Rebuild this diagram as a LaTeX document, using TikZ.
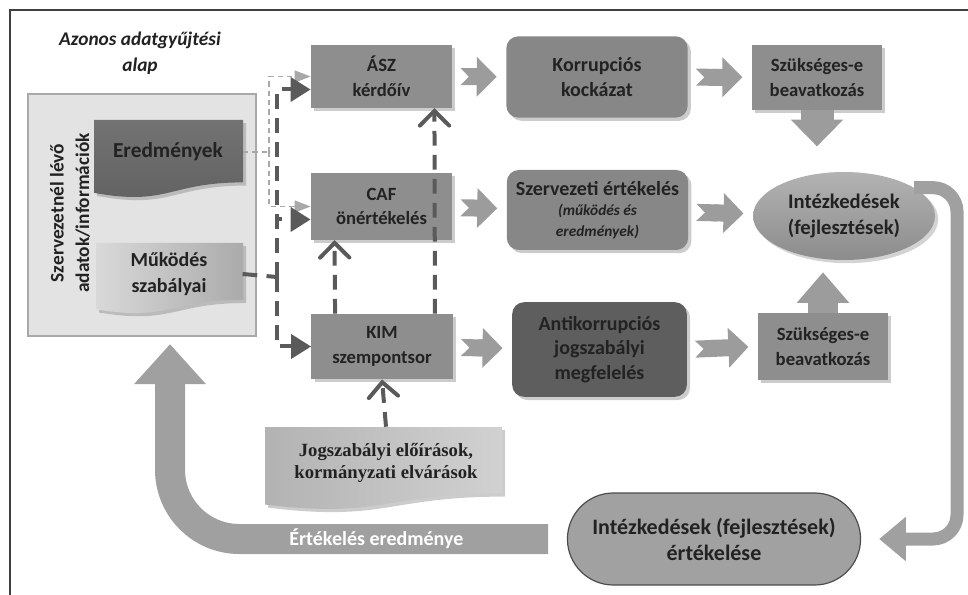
\documentclass[tikz,border=0pt]{standalone}
\usepackage{fontspec}
\setmainfont{Carlito}
\newfontfamily\serifbold{Liberation Serif}
\usetikzlibrary{arrows.meta,shapes.geometric,shapes.misc,shadows,calc,positioning}

\definecolor{boxgray}{HTML}{8E8E8E}
\definecolor{roundgray}{HTML}{878787}
\definecolor{darkbox}{HTML}{5E5E5E}
\definecolor{arrowgray}{HTML}{9C9C9C}
\definecolor{bandgray}{HTML}{A0A0A0}
\definecolor{linkgray}{HTML}{5A5A5A}
\definecolor{lightlink}{HTML}{A8A8A8}
\definecolor{txtgray}{HTML}{222222}
\definecolor{panelgray}{HTML}{E3E3E3}
\definecolor{panelline}{HTML}{A9A9A9}

% document shape: x1, top, x2, full bottom
\newcommand{\docshape}[5][]{%
  \path[#1] (#2,#3) -- (#4,#3) -- (#4,{#3+0.8*(#5-#3)})
    .. controls ({(#2+#4)/2},{#3+0.8*(#5-#3)}) and ({(#2+#4)/2},{#3+1.107*(#5-#3)}) .. (#2,{#3+0.934*(#5-#3)}) -- cycle;}

\begin{document}
\begin{tikzpicture}[x=0.75pt,y=0.75pt,yscale=-1,xscale=1,
  every node/.style={text=txtgray},
  boxfont/.style={font=\bfseries\fontsize{14}{18.5}\selectfont},
  sqbox/.style={boxfont, fill=boxgray, minimum width=106pt, align=center, drop shadow={opacity=.4}},
  rndbox/.style={sqbox, rounded corners=9pt, fill=roundgray, minimum width=136pt, font=\bfseries\fontsize{15}{18.5}\selectfont},
  blockarr/.style={draw=arrowgray, line width=12.75pt, {Triangle Cap[reversed]}-{Triangle[width=29pt,length=15pt]}, shorten <=6pt, shorten >=7pt},
  thicklink/.style={draw=linkgray, line width=3pt, dash pattern=on 11pt off 7pt},
  thinlink/.style={draw=lightlink, line width=1.1pt, dash pattern=on 4pt off 3pt},
  darktip/.style={-{Triangle[length=15pt,width=18pt,fill=linkgray]}},
  lighttip/.style={-{Triangle[length=12pt,width=9pt,fill=lightlink]}},
  barbtip/.style={-{Straight Barb[length=11pt,width=22pt,line cap=round]}}
]
\useasboundingbox (0,0) rectangle (968,595);

% frame
\draw[line width=0.9pt, color=black!75] (10,595) -- (10,10) -- (968,10);

% Text Node
\node (cim) [font=\bfseries\itshape\fontsize{14.5}{19.5}\selectfont, align=center] at (140,53) {Azonos adatgyűjtési\\alap};

%Shape: panel
\node (alap) [draw=panelline, line width=2.2pt, fill=panelgray, minimum width=171pt, minimum height=181.5pt] at (142,215) {};
\node (adat) [rotate=90, align=center, font=\bfseries\fontsize{14.5}{19}\selectfont] at (70,213) {Szervezetnél lévő\\adatok/információk};

%Shape: documents
\docshape[top color=black!55, bottom color=black!62, drop shadow={opacity=.4}]{94}{120}{243}{198}
\node (ered) [font=\bfseries\fontsize{16}{19}\selectfont, minimum width=112pt] at (168,152) {Eredmények};
\docshape[left color=black!15, right color=black!33, drop shadow={opacity=.4}]{96}{243}{243}{314}
\node (mukod) [font=\bfseries\fontsize{15}{19.5}\selectfont, minimum width=110pt, align=center] at (169,274) {Működés\\szabályai};
\docshape[left color=black!30, right color=black!18, drop shadow={opacity=.4}]{265}{427}{502}{510}
\node (jog) [font=\serifbold\bfseries\fontsize{14}{16}\selectfont, align=center, minimum width=178pt, minimum height=54pt] at (386,463) {Jogszabályi előírások,\\kormányzati elvárások};

%Shape: boxes
\node (asz) [sqbox, minimum height=47pt] at (381.5,76.5) {ÁSZ\\kérdőív};
\node (caf) [sqbox, minimum height=50pt] at (381.5,206.5) {CAF\\önértékelés};
\node (kim) [sqbox, minimum height=49pt] at (382,346.5) {KIM\\szempontsor};

\node (korr) [rndbox, minimum height=61pt] at (597,77) {Korrupciós\\kockázat};
\node (szerv) [rndbox, minimum height=60pt] at (597.5,210) {Szervezeti értékelés\\[-3pt]{\itshape\fontsize{11.5}{15}\selectfont (működés és}\\[-3pt]{\itshape\fontsize{11.5}{15}\selectfont eredmények)}};
\node (anti) [rndbox, fill=darkbox, minimum width=131pt, minimum height=71pt] at (599.5,349.5) {Antikorrupciós\\jogszabályi\\megfelelés};

\node (szuk1) [sqbox, minimum width=97.5pt, minimum height=49pt] at (817,77.5) {Szükséges-e\\beavatkozás};
\node (szuk2) [sqbox, minimum width=97.5pt, minimum height=50pt] at (823,346.5) {Szükséges-e\\beavatkozás};

\node (intez) [ellipse, top color=black!30, bottom color=black!45, minimum width=136.5pt, minimum height=66pt, inner sep=0pt, align=center, font=\bfseries\fontsize{15.5}{19.5}\selectfont, drop shadow={opacity=.35}] at (844,216) {Intézkedések\\(fejlesztések)};

\node (ertek) [rounded rectangle, draw=black!70, line width=0.9pt, fill=black!37, minimum width=226.5pt, minimum height=69pt, align=center, font=\bfseries\fontsize{16.5}{19.5}\selectfont] at (714,539) {Intézkedések (fejlesztések)\\értékelése};

% block arrows
\draw[blockarr] (asz) -- (korr);
\draw[blockarr] (caf) -- (szerv);
\draw[blockarr] (kim) -- (anti);
\draw[blockarr] (korr) -- (szuk1);
\draw[blockarr] (szerv) -- (intez);
\draw[blockarr] (anti.east) -- (szuk2.west);

\draw[draw=arrowgray, line width=24.75pt, -{Triangle[width=38pt,length=20pt]}, shorten >=19pt] (szuk1.south) -- (szuk1.south |- intez.north);
\draw[draw=arrowgray, line width=22.5pt, -{Triangle[width=38pt,length=23pt]}, shorten >=9pt] (szuk2.north) -- (szuk2.north |- intez.south);

% feedback
\coordinate (fbbot) at (957,539);
\draw[draw=bandgray, line width=9.75pt, rounded corners=18pt, -{Triangle[width=32pt,length=20pt]}, shorten >=13.5pt] (intez.22) -| (fbbot) -- (ertek.east);
\draw[draw=bandgray, line width=22.5pt, rounded corners=52pt, -{Triangle[width=52pt,length=30pt]}, shorten <=14pt, shorten >=5pt] (ertek.west) -| node (evallabel) [pos=0.24, text=white, font=\bfseries\fontsize{15}{18}\selectfont] {Értékelés eredménye} ($(alap.south)+(28,0)$);

% dashed links
\coordinate (lt) at (269,152);
\draw[thinlink] (ered.east) -- (lt);
\draw[thinlink, lighttip] (lt) |- (asz.west);
\draw[thinlink, lighttip] (lt) |- (caf.west);

\coordinate (dk) at (277,277);
\draw[thicklink] (mukod.east) -- (dk);
\draw[thicklink, darktip] (dk) |- ($(asz.west)+(0,13)$);
\draw[thicklink, darktip] (dk) |- ($(caf.west)+(0,13)$);
\draw[thicklink, darktip] (dk) |- (kim.west);

\draw[thicklink, barbtip] ($(kim.north west)+(24,0)$) -- ($(caf.south west)+(24,0)$);
\draw[thicklink, barbtip] ($(kim.north east)+(-18,0)$) -- ($(asz.south east)+(-18,0)$);
\draw[thicklink, barbtip] (jog.north) -- (kim.south);

\end{tikzpicture}
\end{document}
